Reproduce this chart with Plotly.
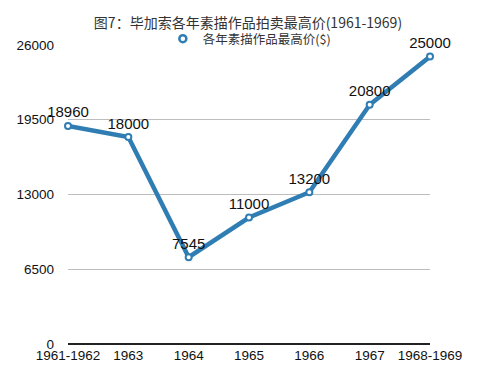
import plotly.graph_objects as go

categories = ["1961-1962", "1963", "1964", "1965", "1966", "1967", "1968-1969"]
values = [18960, 18000, 7545, 11000, 13200, 20800, 25000]
y_ticks = [0, 6500, 13000, 19500, 26000]
series_name = "各年素描作品最高价($)"
title = "图7：毕加索各年素描作品拍卖最高价(1961-1969)"

blue = "#2f7db3"
fig = go.Figure()
fig.add_trace(go.Scatter(
    x=list(range(len(categories))), y=values, name=series_name, showlegend=False,
    mode="lines+markers+text",
    line=dict(color=blue, width=4.5),
    marker=dict(symbol="circle", size=6, color="white", line=dict(color=blue, width=2)),
    text=[str(v) for v in values], textposition="top center",
    textfont=dict(size=15, color="#111", family="Liberation Sans, Arial, sans-serif"),
    cliponaxis=False,
))
# legend entry: marker only
fig.add_trace(go.Scatter(
    x=[None], y=[None], name=series_name, mode="markers",
    marker=dict(symbol="circle", size=7, color="white", line=dict(color=blue, width=2.5)),
))
fig.update_layout(
    width=490, height=378,
    margin=dict(l=60, r=68, t=37, b=42, autoexpand=False),
    paper_bgcolor="white", plot_bgcolor="white",
    font=dict(family="Liberation Sans, Noto Sans CJK SC, sans-serif", color="#222"),
    title=dict(text=title, x=(248 - 8) / 490, xanchor="center", y=1 - 15 / 378, yref="container",
               yanchor="middle",
               font=dict(size=14, color="#333", family="Noto Sans CJK SC, sans-serif")),
    showlegend=True,
    legend=dict(x=0.262, y=1.02, xanchor="left", yanchor="middle", orientation="h",
                font=dict(size=12.5, color="#333", family="Noto Sans CJK SC, sans-serif"),
                bgcolor="rgba(0,0,0,0)", itemwidth=30),
    xaxis=dict(tickmode="array", tickvals=list(range(len(categories))), ticktext=categories,
               range=[0, 6], showgrid=False, zeroline=False, showline=False, automargin=False,
               tickfont=dict(size=13.5, color="#111"), ticks="", ticklabelstandoff=1),
    yaxis=dict(range=[0, 26000], tickvals=y_ticks, ticktext=[str(t) for t in y_ticks],
               showgrid=True, gridcolor="#bdbdbd", gridwidth=1, automargin=False,
               zeroline=True, zerolinecolor="#222", zerolinewidth=1.5,
               tickfont=dict(size=13.5, color="#111"), ticks="", ticklabelstandoff=13),
)
fig.write_html("out.html")
